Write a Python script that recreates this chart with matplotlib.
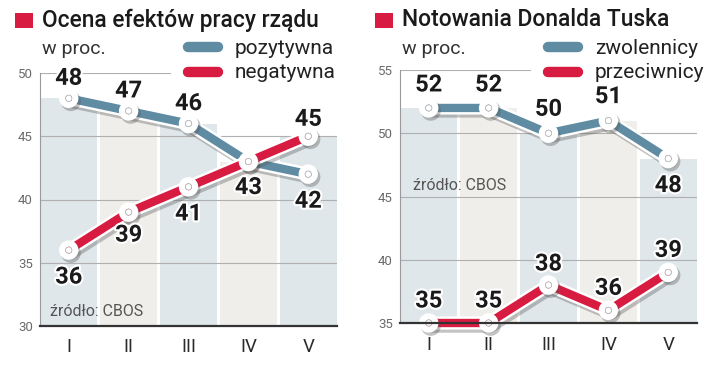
import matplotlib
matplotlib.use("Agg")
import matplotlib.pyplot as plt
import matplotlib.patheffects as pe
from matplotlib.lines import Line2D
from matplotlib.patches import Rectangle

plt.rcParams['font.family'] = ['Roboto', 'DejaVu Sans']

categories = ["I", "II", "III", "IV", "V"]

left_title = "Ocena efektów pracy rządu"
left_pos_name = "pozytywna"
left_neg_name = "negatywna"
left_pos = [48, 47, 46, 43, 42]
left_neg = [36, 39, 41, 43, 45]
left_yticks = [30, 35, 40, 45, 50]

right_title = "Notowania Donalda Tuska"
right_pos_name = "zwolennicy"
right_neg_name = "przeciwnicy"
right_pos = [52, 52, 50, 51, 48]
right_neg = [35, 35, 38, 36, 39]
right_yticks = [35, 40, 45, 50, 55]

unit_label = "w proc."
source = "źródło: CBOS"

BLUE = "#5f8ca3"
RED = "#d81b41"
COL_A = "#dfe7eb"
COL_B = "#efeeea"
W, H = 720, 368

fig = plt.figure(figsize=(7.2, 3.68), dpi=100)


def fx(x):
    return x / W


def fy(y):
    return 1 - y / H


def draw_panel(x0, x1, ytop, ybot, ylim, yticks, pos, neg, pos_lab_off, neg_lab_off,
               title, pos_name, neg_name, src_xy, legend_box):
    ax = fig.add_axes([fx(x0), fy(ybot), (x1 - x0) / W, (ybot - ytop) / H])
    ax.set_xlim(-0.48, 4.48)
    ax.set_ylim(*ylim)
    xs = list(range(len(categories)))
    tops = [max(a, b) for a, b in zip(pos, neg)]
    cols = [COL_A if i % 2 == 0 else COL_B for i in xs]
    ax.bar(xs, [t - ylim[0] for t in tops], bottom=ylim[0], width=0.95,
           color=cols, zorder=1, linewidth=0)
    for t in yticks:
        ax.axhline(t, color="#b0b0b0", lw=0.8, zorder=2)
    # white legend background hiding gridline
    ax.add_patch(Rectangle((legend_box[0], legend_box[1]), legend_box[2], legend_box[3],
                           transform=ax.transAxes, facecolor="white", edgecolor="none",
                           zorder=2.5, clip_on=False))
    for s in ["top", "right"]:
        ax.spines[s].set_visible(False)
    ax.spines["left"].set_color("#9a9a9a")
    ax.spines["left"].set_linewidth(0.8)
    ax.spines["bottom"].set_color("#333333")
    ax.spines["bottom"].set_linewidth(1.6)
    ax.spines["bottom"].set_zorder(6)
    ax.set_yticks(yticks)
    ax.set_yticklabels([str(t) for t in yticks], color="#6a6a6a", fontsize=9.5)
    ax.set_xticks(xs)
    ax.set_xticklabels(categories, fontsize=13.5, color="#2a2a2a")
    ax.tick_params(axis="both", length=0)
    ax.tick_params(axis="y", pad=5)
    ax.tick_params(axis="x", pad=9)
    ax.xaxis.set_zorder(8)

    effects = [pe.SimpleLineShadow(offset=(1.5, -2), shadow_color="#555555", alpha=0.35,
                                   linewidth=10),
               pe.Stroke(linewidth=9.5, foreground="white"), pe.Normal()]
    for vals, col in [(pos, BLUE), (neg, RED)]:
        ax.plot(xs, vals, color=col, lw=6, solid_capstyle="round",
                solid_joinstyle="round", zorder=4, path_effects=effects,
                marker="o", markersize=4.5, markerfacecolor="white",
                markeredgecolor="#b0b0b0", markeredgewidth=0.5, clip_on=False)
    for vals, offs in [(pos, pos_lab_off), (neg, neg_lab_off)]:
        for x, v, o in zip(xs, vals, offs):
            if o is None:
                continue
            ax.annotate(str(v), (x, v), xytext=(0, -o), textcoords="offset pixels",
                        ha="center", va="center", fontsize=17, fontweight="bold",
                        color="#1a1a1a", zorder=7, annotation_clip=False,
                        path_effects=[pe.withStroke(linewidth=3, foreground="white")])
    ax.text(fx(src_xy[0]), fy(src_xy[1]), source, transform=fig.transFigure,
            fontsize=11.5, color="#555555", ha="left", va="center", zorder=7)
    # title
    tx = x0 - 15
    fig.patches.append(Rectangle((fx(tx - 10), fy(28)), 18 / W, 15 / H,
                                 transform=fig.transFigure, facecolor=RED,
                                 edgecolor="none"))
    fig.text(fx(tx + 17), fy(20), title, fontsize=16.4, fontweight="medium",
             color="#1a1a1a", ha="left", va="center")
    fig.text(fx(tx + 17), fy(49), unit_label, fontsize=14, color="#333333",
             ha="left", va="center")
    lx0 = x0 + 148
    for yy, col, name in [(47, BLUE, pos_name), (72, RED, neg_name)]:
        fig.add_artist(Line2D([fx(lx0), fx(lx0 + 30)], [fy(yy), fy(yy)],
                              transform=fig.transFigure, color=col, lw=7.5,
                              solid_capstyle="round"))
        fig.text(fx(lx0 + 47), fy(yy + 1), name, fontsize=15, color="#222222",
                 ha="left", va="center")
    return ax


draw_panel(40, 337, 73, 326, (30, 50), left_yticks, left_pos, left_neg,
           [-20, -20, -20, 26, 27], [27, 23, 27, None, -17],
           left_title, left_pos_name, left_neg_name, (50, 312),
           (0.44, 0.93, 0.6, 0.12))
draw_panel(400, 697, 70, 323, (35, 55), right_yticks, right_pos, right_neg,
           [-23, -23, -24, -24, 27], [-22, -22, -21, -22, -22],
           right_title, right_pos_name, right_neg_name, (413, 186),
           (0.44, 0.93, 0.6, 0.12))

fig.savefig("out.png", dpi=100)
